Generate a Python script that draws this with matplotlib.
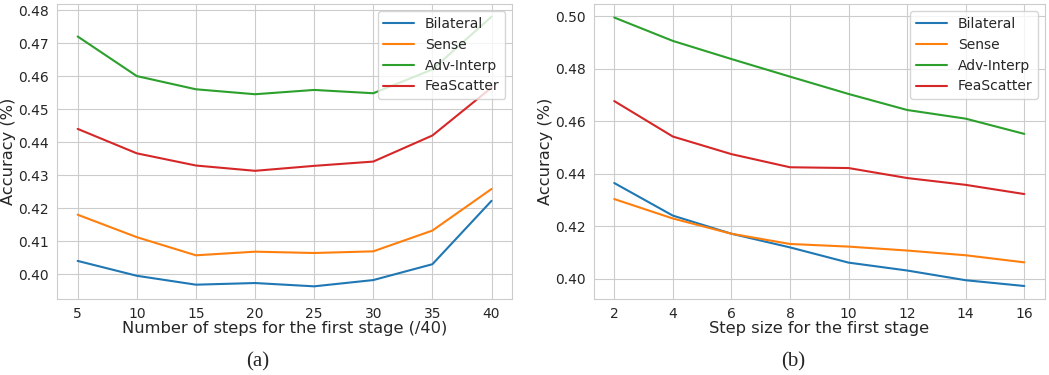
import matplotlib
matplotlib.use("Agg")
import matplotlib.pyplot as plt
import seaborn as sns

sns.set_style("whitegrid")
plt.rcParams['font.family'] = ['DejaVu Sans']

labels = ["Bilateral", "Sense", "Adv-Interp", "FeaScatter"]

# (a) number of steps for the first stage
steps = [5, 10, 15, 20, 25, 30, 35, 40]
bilateral_a = [0.404, 0.3995, 0.3968, 0.3973, 0.3963, 0.3982, 0.403, 0.4222]
sense_a = [0.418, 0.4112, 0.4057, 0.4068, 0.4064, 0.4069, 0.4132, 0.4258]
adv_a = [0.472, 0.460, 0.456, 0.4545, 0.4558, 0.4548, 0.462, 0.478]
fea_a = [0.444, 0.4366, 0.4329, 0.4313, 0.4328, 0.4341, 0.442, 0.4565]

# (b) step size for the first stage
step_size = [2, 4, 6, 8, 10, 12, 14, 16]
bilateral_b = [0.4365, 0.4241, 0.4172, 0.412, 0.4062, 0.4032, 0.3995, 0.3973]
sense_b = [0.4304, 0.423, 0.4172, 0.4133, 0.4123, 0.4108, 0.409, 0.4063]
adv_b = [0.4995, 0.4906, 0.4837, 0.477, 0.4704, 0.4643, 0.461, 0.4552]
fea_b = [0.4677, 0.4542, 0.4475, 0.4425, 0.4422, 0.4384, 0.4358, 0.4323]

fig = plt.figure(figsize=(10.49, 3.75), dpi=100)
ax1 = fig.add_axes([0.0543, 0.203, 0.434, 0.786])
ax2 = fig.add_axes([0.566, 0.203, 0.43, 0.786])

for ax, x, series, xlabel, ylim in [
    (ax1, steps, [bilateral_a, sense_a, adv_a, fea_a],
     "Number of steps for the first stage (/40)", (0.3925, 0.4818)),
    (ax2, step_size, [bilateral_b, sense_b, adv_b, fea_b],
     "Step size for the first stage", (0.3924, 0.5046)),
]:
    for s, lab in zip(series, labels):
        ax.plot(x, s, label=lab, linewidth=1.5)
    ax.set_xticks(x)
    ax.set_ylim(*ylim)
    ax.set_xlabel(xlabel, fontsize=11.7, labelpad=0)
    ax.set_ylabel("Accuracy (%)", fontsize=11.7, labelpad=1)
    ax.tick_params(labelsize=10, pad=2.5)
    ax.legend(loc="upper right", fontsize=10, frameon=True,
              borderaxespad=0.5, handlelength=2.2)

ax1.set_yticks([0.40, 0.41, 0.42, 0.43, 0.44, 0.45, 0.46, 0.47, 0.48])
ax2.set_yticks([0.40, 0.42, 0.44, 0.46, 0.48, 0.50])

fig.text(0.246, 0.022, "(a)", family="Liberation Serif", fontsize=15, ha="center", va="baseline")
fig.text(0.756, 0.022, "(b)", family="Liberation Serif", fontsize=15, ha="center", va="baseline")

plt.savefig("out.png", dpi=100)
